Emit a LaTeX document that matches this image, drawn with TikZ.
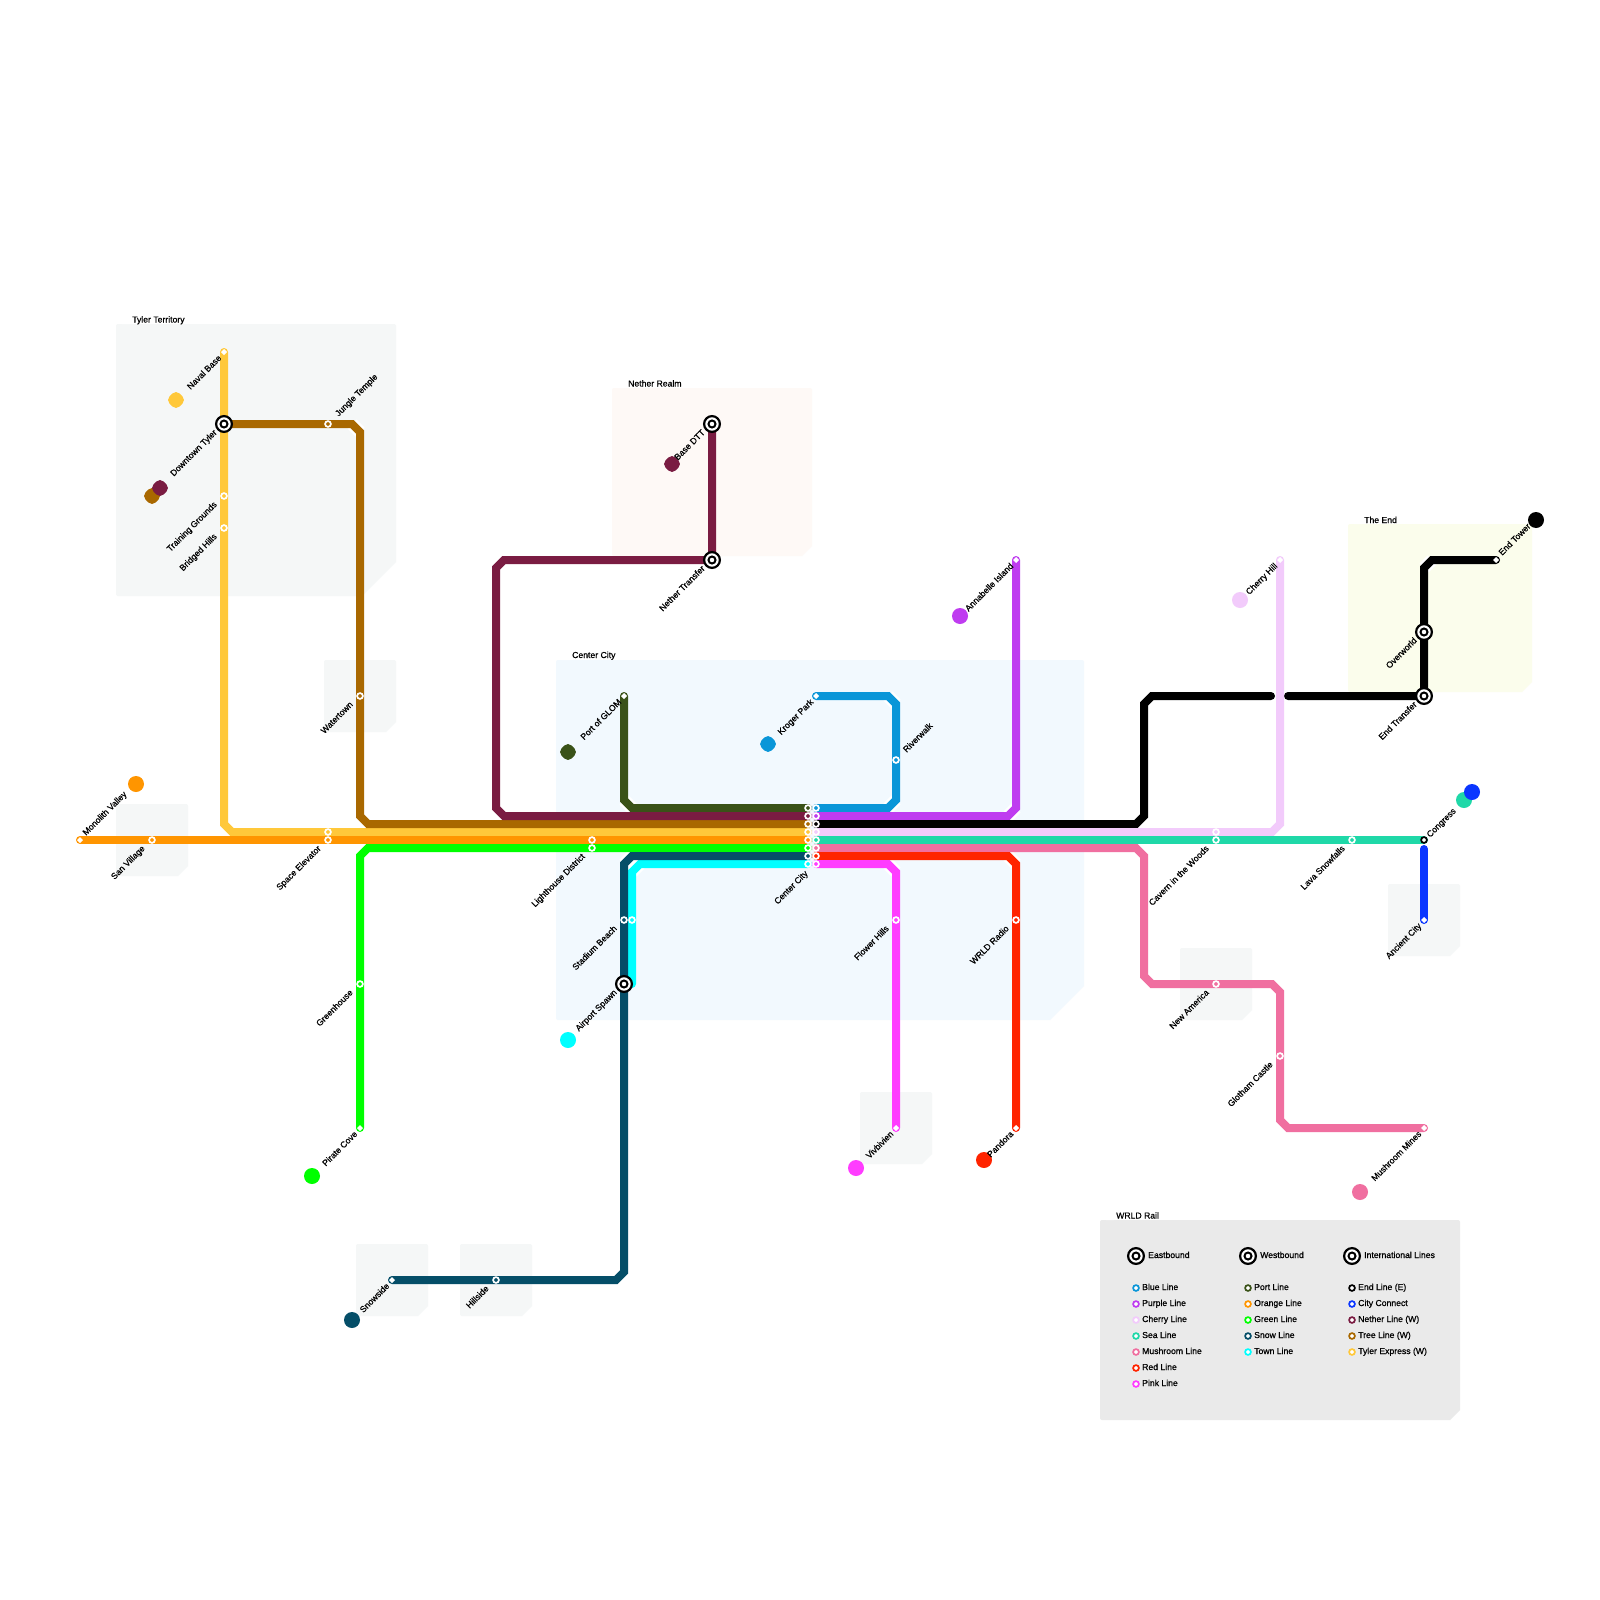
\documentclass[tikz,border=0pt]{standalone}
\usepackage{fontspec}
\newfontfamily\labfont[FakeBold=0.7]{Liberation Sans}
\definecolor{cblue}{HTML}{0A96D8}
\definecolor{cpurple}{HTML}{BF3CF0}
\definecolor{ccherry}{HTML}{F2CBFB}
\definecolor{csea}{HTML}{1FD8A8}
\definecolor{cmush}{HTML}{F06FA0}
\definecolor{cred}{HTML}{FF2400}
\definecolor{cpink}{HTML}{FF3CFF}
\definecolor{cport}{HTML}{3A5218}
\definecolor{corange}{HTML}{FF9500}
\definecolor{cgreen}{HTML}{00FF00}
\definecolor{csnow}{HTML}{054E68}
\definecolor{ctown}{HTML}{00FFFF}
\definecolor{cend}{HTML}{000000}
\definecolor{ccity}{HTML}{0A36FF}
\definecolor{cnether}{HTML}{7A1C42}
\definecolor{ctree}{HTML}{A96800}
\definecolor{ctyler}{HTML}{FFC83A}
\definecolor{rgray}{HTML}{F5F7F7}
\definecolor{rblue}{HTML}{F2F9FE}
\definecolor{rrose}{HTML}{FEF9F6}
\definecolor{ryellow}{HTML}{FBFDEC}
\definecolor{rlegend}{HTML}{EAEAEA}
\pgfdeclarelayer{regions}\pgfdeclarelayer{casing}\pgfdeclarelayer{lines}
\pgfsetlayers{regions,casing,lines,main}
\tikzset{
  stn/.style={circle,draw=white,line width=1.7pt,fill=#1,inner sep=0pt,outer sep=0pt,minimum size=5.8pt},
  tstn/.style={circle,draw=white,line width=1.7pt,fill=white,inner sep=0pt,outer sep=0pt,minimum size=3.6pt},
  ring/.style={circle,draw=#1,line width=1.7pt,fill=white,inner sep=0pt,outer sep=0pt,minimum size=5.8pt},
  hub/.style={circle,draw=black,line width=2.2pt,fill=white,inner sep=0pt,outer sep=0pt,minimum size=15.8pt,
    path picture={\draw[black,line width=2pt] (path picture bounding box.center) circle (3.5pt);}},
  blob/.style={circle,fill=#1,inner sep=0pt,minimum size=16pt},
  sqblob/.style={rectangle,rotate=45,rounded corners=5pt,fill=#1,inner sep=0pt,minimum size=14.2pt},
  rail/.style={draw=#1,line width=8pt,line cap=round,line join=miter},
  lblL/.style={anchor=base east,rotate=45,inner sep=0pt,font=\labfont\fontsize{8.65}{10}\selectfont},
  lblR/.style={anchor=base west,rotate=45,inner sep=0pt,font=\labfont\fontsize{8.65}{10}\selectfont},
  txt/.style={anchor=base west,inner sep=0pt,font=\labfont\fontsize{8.65}{10}\selectfont},
}
\newcommand{\stnat}[4]{\node[stn=#4] (#1) at (#2,#3) {};}
\newcommand{\tstnat}[3]{\node[tstn] (#1) at (#2,#3) {};}
\newcommand{\hubat}[3]{\node[hub] (#1) at (#2,#3) {};}
\newcommand{\labL}[2]{\node[lblL] (lab-#1) at ([shift={(-6.5,9)}]#1.center) {#2};}
\newcommand{\labT}[2]{\node[lblL] (lab-#1) at ([shift={(-2,6.5)}]#1.center) {#2};}
\newcommand{\labR}[2]{\node[lblR] (lab-#1) at ([shift={(10.5,-7)}]#1.center) {#2};}
\newcommand{\labS}[2]{\node[lblR] (lab-#1) at ([shift={(6,-4)}]#1.center) {#2};}
\newcommand{\regionbox}[6]{\fill[#1,rounded corners=2pt] (#2,#5) -- (#2,#3) -- (#4,#3) [sharp corners] -- (#4,#5-#6) -- (#4-#6,#5) [rounded corners=2pt] -- cycle;}
\newcommand{\regiondot}[2]{\fill[white] (#1+2,#2+4) -- (#1+10,#2+4) -- (#1+2,#2-4) -- cycle; \fill[white] (#1,#2) circle (4pt);}
\begin{document}
\begin{tikzpicture}[x=1pt,y=-1pt]
\useasboundingbox (0,0) rectangle (1600,1600);
\begin{pgfonlayer}{regions}
\fill[white] (0,0) rectangle (1600,1600);
\regionbox{rgray}{116}{324}{396}{596}{34}
\regionbox{rrose}{612}{388}{812}{556}{10}
\regionbox{rblue}{556}{660}{1084}{1020}{34}
\regionbox{ryellow}{1348}{524}{1532}{692}{10}
\regionbox{rgray}{324}{660}{396}{732}{10}
\regionbox{rgray}{116}{804}{188}{876}{10}
\regionbox{rgray}{1388}{884}{1460}{956}{10}
\regionbox{rgray}{1180}{948}{1252}{1020}{10}
\regionbox{rgray}{860}{1092}{932}{1164}{10}
\regionbox{rgray}{356}{1244}{428}{1316}{10}
\regionbox{rgray}{460}{1244}{532}{1316}{10}
\regionbox{rlegend}{1100}{1220}{1460}{1420}{10}
\regiondot{120}{320}
\regiondot{616}{384}
\regiondot{560}{656}
\regiondot{1352}{520}
\regiondot{1104}{1216}
\end{pgfonlayer}
% region titles
\node[txt] (t-tyler) at (132,322.5) {Tyler Territory};
\node[txt] (t-nether) at (628,386.5) {Nether Realm};
\node[txt] (t-center) at (572,658) {Center City};
\node[txt] (t-end) at (1364,523) {The End};
\node[txt] (t-wrld) at (1116,1218.5) {WRLD Rail};
% stations
\tstnat{naval}{224}{352}
\hubat{downtown}{224}{424}
\stnat{training}{224}{496}{ctyler}
\stnat{bridged}{224}{528}{ctyler}
\stnat{spaceT}{328}{832}{ctyler}
\stnat{ccT}{808}{832}{ctyler}
\stnat{jungle}{328}{424}{ctree}
\stnat{watertown}{360}{696}{ctree}
\stnat{ccTree}{808}{824}{ctree}
\tstnat{monolith}{80}{840}
\stnat{san}{152}{840}{corange}
\stnat{space}{328}{840}{corange}
\stnat{lightO}{592}{840}{corange}
\stnat{ccO}{808}{840}{corange}
\tstnat{pirate}{360}{1128}
\stnat{greenhouse}{360}{984}{cgreen}
\stnat{light}{592}{848}{cgreen}
\stnat{ccG}{808}{848}{cgreen}
\tstnat{snowside}{392}{1280}
\stnat{hillside}{496}{1280}{csnow}
\stnat{stadium}{624}{920}{csnow}
\hubat{airport}{624}{984}
\stnat{ccS}{808}{856}{csnow}
\stnat{stadiumT}{632}{920}{ctown}
\stnat{ccTown}{808}{864}{ctown}
\tstnat{portg}{624}{696}
\stnat{ccP}{808}{808}{cport}
\hubat{basedtt}{712}{424}
\hubat{nethert}{712}{560}
\stnat{ccN}{808}{816}{cnether}
\tstnat{kroger}{816}{696}
\stnat{riverwalk}{896}{760}{cblue}
\stnat{ccB}{816}{808}{cblue}
\tstnat{annabelle}{1016}{560}
\stnat{ccPu}{816}{816}{cpurple}
\stnat{ccE}{816}{824}{cend}
\hubat{endt}{1424}{696}
\hubat{overworld}{1424}{632}
\tstnat{endtower}{1496}{560}
\tstnat{cherryhill}{1280}{560}
\stnat{cavernC}{1216}{832}{ccherry}
\stnat{ccCh}{816}{832}{ccherry}
\stnat{ccSea}{816}{840}{csea}
\stnat{cavern}{1216}{840}{csea}
\stnat{lava}{1352}{840}{csea}
\node[ring=cend] (congress) at (1424,840) {};
\stnat{ccM}{816}{848}{cmush}
\stnat{newam}{1216}{984}{cmush}
\stnat{glotham}{1280}{1056}{cmush}
\tstnat{mines}{1424}{1128}
\stnat{ccR}{816}{856}{cred}
\stnat{wrldradio}{1016}{920}{cred}
\tstnat{pandora}{1016}{1128}
\stnat{ccPk}{816}{864}{cpink}
\stnat{flower}{896}{920}{cpink}
\tstnat{viv}{896}{1128}
\tstnat{ancient}{1424}{920}
\coordinate (ccstart) at (1424,849);
\coordinate (gapL) at (1271,696);
\coordinate (gapR) at (1288,696);
% chamfer casings and lines
\begin{pgfonlayer}{casing}
\foreach \a/\b/\c/\d in {224/824/232/832,352/424/360/432,360/816/368/824,360/856/368/848,
  616/1280/624/1272,624/864/632/856,632/872/640/864,624/800/632/808,504/560/496/568,496/808/504/816,
  888/696/896/704,896/800/888/808,1016/808/1008/816,1136/824/1144/816,1144/704/1152/696,
  1424/568/1432/560,1280/824/1272/832,1136/848/1144/856,1144/976/1152/984,1272/984/1280/992,
  1280/1120/1288/1128,1008/856/1016/864,888/864/896/872}
  {\draw[white,line width=13pt] (\a,\b) -- (\c,\d);}
\end{pgfonlayer}
\begin{pgfonlayer}{lines}
\draw[rail=ctyler] (naval.center) -- (downtown.center) -- (training.center) -- (bridged.center) -- (224,824) -- (232,832) -- (spaceT.center) -- (ccT.center);
\draw[rail=ctree] (downtown.center) -- (jungle.center) -- (352,424) -- (360,432) -- (watertown.center) -- (360,816) -- (368,824) -- (ccTree.center);
\draw[rail=cgreen] (pirate.center) -- (greenhouse.center) -- (360,856) -- (368,848) -- (light.center) -- (ccG.center);
\draw[rail=corange] (monolith.center) -- (san.center) -- (space.center) -- (lightO.center) -- (ccO.center);
\draw[rail=ctown] (632,984) -- (stadiumT.center) -- (632,872) -- (640,864) -- (ccTown.center);
\draw[rail=csnow] (snowside.center) -- (hillside.center) -- (616,1280) -- (624,1272) -- (airport.center) -- (stadium.center) -- (624,864) -- (632,856) -- (ccS.center);
\draw[rail=cport] (portg.center) -- (624,800) -- (632,808) -- (ccP.center);
\draw[rail=cnether] (basedtt.center) -- (nethert.center) -- (504,560) -- (496,568) -- (496,808) -- (504,816) -- (ccN.center);
\draw[rail=cblue] (kroger.center) -- (888,696) -- (896,704) -- (riverwalk.center) -- (896,800) -- (888,808) -- (ccB.center);
\draw[rail=cpurple] (annabelle.center) -- (1016,808) -- (1008,816) -- (ccPu.center);
\draw[rail=cend] (ccE.center) -- (1136,824) -- (1144,816) -- (1144,704) -- (1152,696) -- (gapL);
\draw[rail=cend] (gapR) -- (endt.center) -- (overworld.center) -- (1424,568) -- (1432,560) -- (endtower.center);
\draw[rail=ccherry] (cherryhill.center) -- (1280,824) -- (1272,832) -- (cavernC.center) -- (ccCh.center);
\draw[rail=csea] (ccSea.center) -- (cavern.center) -- (lava.center) -- (congress.center);
\draw[rail=cmush] (ccM.center) -- (1136,848) -- (1144,856) -- (1144,976) -- (1152,984) -- (newam.center) -- (1272,984) -- (1280,992) -- (glotham.center) -- (1280,1120) -- (1288,1128) -- (mines.center);
\draw[rail=cred] (ccR.center) -- (1008,856) -- (1016,864) -- (wrldradio.center) -- (pandora.center);
\draw[rail=cpink] (ccPk.center) -- (888,864) -- (896,872) -- (flower.center) -- (viv.center);
\draw[rail=ccity] (ccstart) -- (ancient.center);
\end{pgfonlayer}
% terminal markers
\node[blob=corange] (b-orange) at (136,784) {};
\node[sqblob=ctyler] (b-tyler) at (176,400) {};
\node[sqblob=ctree] (b-tree) at (152,496) {};
\node[sqblob=cnether] (b-nether) at (160,488) {};
\node[sqblob=cport] (b-port) at (568,752) {};
\node[sqblob=cblue] (b-blue) at (768,744) {};
\node[sqblob=cnether] (b-nether2) at (672,464) {};
\node[blob=cpurple] (b-purple) at (960,616) {};
\node[blob=ccherry] (b-cherry) at (1240,600) {};
\node[blob=cend] (b-end) at (1536,520) {};
\node[blob=csea] (b-sea) at (1464,800) {};
\node[blob=ccity] (b-city) at (1472,792) {};
\node[blob=ctown] (b-town) at (568,1040) {};
\node[blob=cgreen] (b-green) at (312,1176) {};
\node[blob=csnow] (b-snow) at (352,1320) {};
\node[blob=cpink] (b-pink) at (856,1168) {};
\node[blob=cred] (b-red) at (984,1160) {};
\node[blob=cmush] (b-mush) at (1360,1192) {};
% labels
\labT{naval}{Naval Base}
\labL{downtown}{Downtown Tyler}
\labL{training}{Training Grounds}
\labL{bridged}{Bridged Hills}
\labL{watertown}{Watertown}
\labL{space}{Space Elevator}
\labL{san}{San Village}
\labL{light}{Lighthouse District}
\labL{greenhouse}{Greenhouse}
\labT{pirate}{Pirate Cove}
\labT{snowside}{Snowside}
\labL{hillside}{Hillside}
\labL{stadium}{Stadium Beach}
\labL{airport}{Airport Spawn}
\labT{portg}{Port of GLOM}
\labL{basedtt}{Base DTT}
\labL{nethert}{Nether Transfer}
\labT{kroger}{Kroger Park}
\node[lblL] (lab-cc) at (808.5,874) {Center City};
\labL{flower}{Flower Hills}
\labL{wrldradio}{WRLD Radio}
\labT{viv}{Vivbivien}
\labT{pandora}{Pandora}
\labT{annabelle}{Annabelle Island}
\labT{cherryhill}{Cherry Hill}
\labL{cavern}{Cavern in the Woods}
\labL{newam}{New America}
\labL{glotham}{Glotham Castle}
\labT{mines}{Mushroom Mines}
\labL{lava}{Lava Snowfalls}
\labT{ancient}{Ancient City}
\labL{endt}{End Transfer}
\labL{overworld}{Overworld}
\labR{jungle}{Jungle Temple}
\labS{monolith}{Monolith Valley}
\labR{riverwalk}{Riverwalk}
\labS{endtower}{End Tower}
\node[lblR] (lab-congress) at ([shift={(6,-2)}]congress.center) {Congress};
% legend
\hubat{leg-e}{1136}{1256}
\hubat{leg-w}{1248}{1256}
\hubat{leg-i}{1352}{1256}
\node[txt] (legt-e) at (1148,1258) {Eastbound};
\node[txt] (legt-w) at (1260,1258) {Westbound};
\node[txt] (legt-i) at (1364,1258) {International Lines};
\foreach \n/\y/\c/\t in {a/1288/cblue/Blue Line,b/1304/cpurple/Purple Line,c/1320/ccherry/Cherry Line,d/1336/csea/Sea Line,e/1352/cmush/Mushroom Line,f/1368/cred/Red Line,g/1384/cpink/Pink Line}
  {\node[ring=\c] (lga\n) at (1136,\y) {}; \node[txt] (lta\n) at (1142,\y+2) {\t};}
\foreach \n/\y/\c/\t in {a/1288/cport/Port Line,b/1304/corange/Orange Line,c/1320/cgreen/Green Line,d/1336/csnow/Snow Line,e/1352/ctown/Town Line}
  {\node[ring=\c] (lgb\n) at (1248,\y) {}; \node[txt] (ltb\n) at (1254,\y+2) {\t};}
\foreach \n/\y/\c/\t in {a/1288/cend/End Line (E),b/1304/ccity/City Connect,c/1320/cnether/Nether Line (W),d/1336/ctree/Tree Line (W),e/1352/ctyler/Tyler Express (W)}
  {\node[ring=\c] (lgc\n) at (1352,\y) {}; \node[txt] (ltc\n) at (1358,\y+2) {\t};}
\end{tikzpicture}
\end{document}
